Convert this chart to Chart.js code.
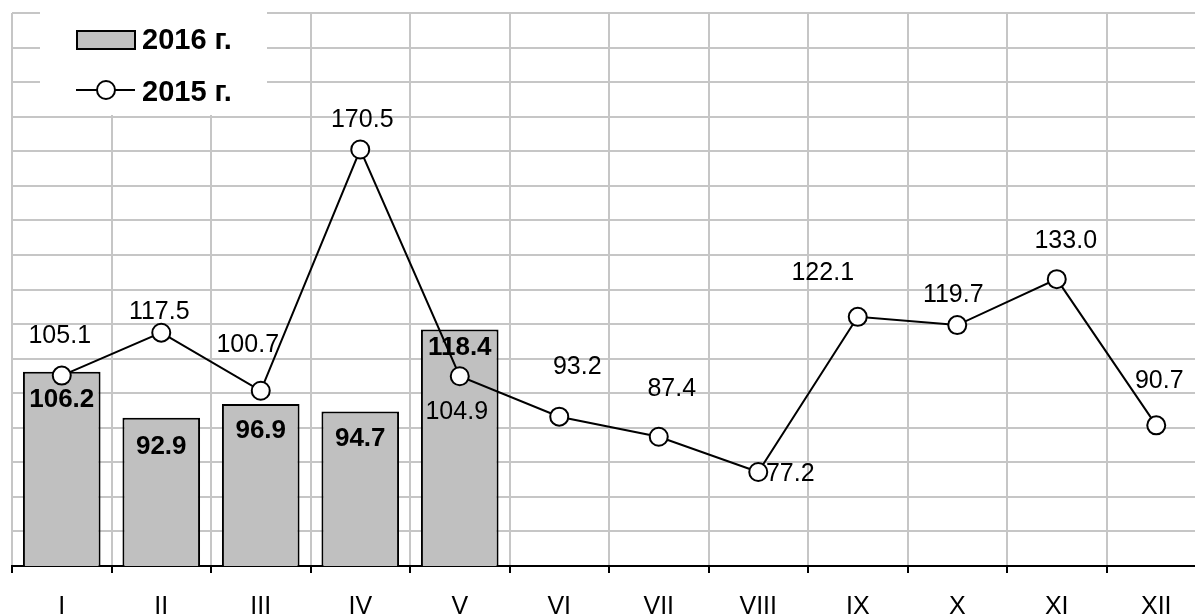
<!DOCTYPE html>
<html>
<head>
<meta charset="utf-8">
<script src="https://cdn.jsdelivr.net/npm/chart.js@4"></script>
<style>
  html, body { margin: 0; padding: 0; background: #fff; overflow: hidden; }
  #wrap { width: 1217px; height: 614px; }
</style>
</head>
<body>
<div id="wrap"><canvas id="grafica"></canvas></div>
<script>
// Месяцы
const meses = ["I", "II", "III", "IV", "V", "VI", "VII", "VIII", "IX", "X", "XI", "XII"];
// 2016 г. (только первые пять месяцев)
const valores2016 = [106.2, 92.9, 96.9, 94.7, 118.4, null, null, null, null, null, null, null];
// 2015 г.
const valores2015 = [105.1, 117.5, 100.7, 170.5, 104.9, 93.2, 87.4, 77.2, 122.1, 119.7, 133.0, 90.7];
// Escala vertical (sin etiquetas)
const ejeMin = 50, ejeMax = 210, ejePaso = 10;

// desplazamiento de las etiquetas de la línea respecto al punto [dx, dy]
const offsets2015 = [[-2, -39], [-2, -21], [-13, -46], [2, -29], [-3, 36], [18, -50],
                     [13, -48], [32, 2], [-35, -44], [-4, -30], [9, -38], [3, -44]];
// distancia de la etiqueta de la barra desde su borde superior
const offsets2016 = [28, 29, 27, 27, 18];

const fuente = '"Liberation Sans", Arial, sans-serif';
const grisBarra = '#c0c0c0';
const grisRejilla = '#c6c6c6';

const etiquetasValores = {
  id: 'etiquetasValores',
  afterDatasetDraw(chart, args) {
    const ctx = chart.ctx;
    const ds = chart.data.datasets[args.index];
    ctx.save();
    ctx.fillStyle = '#000';
    ctx.textAlign = 'center';
    ctx.textBaseline = 'middle';
    args.meta.data.forEach((el, i) => {
      const v = ds.data[i];
      if (v === null || v === undefined) return;
      if (ds.type === 'bar') {
        ctx.font = 'bold 26px ' + fuente;
        ctx.fillText(v.toFixed(1), el.x, el.y + offsets2016[i]);
      } else {
        ctx.font = '25px ' + fuente;
        ctx.fillText(v.toFixed(1), el.x + offsets2015[i][0], el.y + offsets2015[i][1]);
      }
    });
    ctx.restore();
  }
};

// leyenda dentro del área del gráfico, con fondo blanco
const leyenda = {
  id: 'leyenda',
  afterDraw(chart) {
    const ctx = chart.ctx;
    const dsBar = chart.data.datasets[1];
    const dsLine = chart.data.datasets[0];
    ctx.save();
    ctx.fillStyle = '#fff';
    ctx.fillRect(40, 11, 227, 104);
    // barra
    ctx.fillStyle = grisBarra;
    ctx.strokeStyle = '#000';
    ctx.lineWidth = 2;
    ctx.fillRect(77, 31, 58, 18);
    ctx.strokeRect(77, 31, 58, 18);
    // línea con marcador
    ctx.beginPath();
    ctx.moveTo(76, 90);
    ctx.lineTo(135, 90);
    ctx.stroke();
    ctx.beginPath();
    ctx.arc(106, 90, 9, 0, Math.PI * 2);
    ctx.fillStyle = '#fff';
    ctx.fill();
    ctx.stroke();
    // textos
    ctx.fillStyle = '#000';
    ctx.font = 'bold 29px ' + fuente;
    ctx.textAlign = 'left';
    ctx.textBaseline = 'middle';
    ctx.fillText(dsBar.label, 142, 41);
    ctx.fillText(dsLine.label, 142, 93);
    ctx.restore();
  }
};

new Chart(document.querySelector('#grafica'), {
  data: {
    labels: meses,
    datasets: [
      {
        type: 'line',
        label: '2015 г.',
        data: valores2015,
        order: 0,
        borderColor: '#000',
        borderWidth: 2,
        pointRadius: 9,
        pointHoverRadius: 9,
        pointBackgroundColor: '#fff',
        pointBorderColor: '#000',
        pointBorderWidth: 2,
        tension: 0,
        clip: false
      },
      {
        type: 'bar',
        label: '2016 г.',
        data: valores2016,
        order: 1,
        backgroundColor: grisBarra,
        borderColor: '#000',
        borderWidth: 2,
        borderSkipped: 'bottom',
        barPercentage: 0.78,
        categoryPercentage: 1
      }
    ]
  },
  options: {
    responsive: true,
    maintainAspectRatio: false,
    animation: false,
    events: [],
    layout: { padding: { left: 12, right: 4, top: 13, bottom: 0 } },
    plugins: {
      legend: { display: false },
      tooltip: { enabled: false }
    },
    scales: {
      x: {
        offset: true,
        grid: {
          offset: true,
          color: grisRejilla,
          lineWidth: 2,
          tickLength: 7,
          tickColor: '#000',
          tickWidth: 2
        },
        border: { color: '#000', width: 2 },
        ticks: {
          color: '#000',
          padding: 19,
          font: { family: fuente, size: 25 }
        },
        afterFit(scale) { scale.height = 48; }
      },
      y: {
        min: ejeMin,
        max: ejeMax,
        ticks: { display: false, stepSize: ejePaso },
        grid: { color: grisRejilla, lineWidth: 2, drawTicks: false },
        border: { display: false }
      }
    }
  },
  plugins: [etiquetasValores, leyenda]
});
</script>
</body>
</html>
